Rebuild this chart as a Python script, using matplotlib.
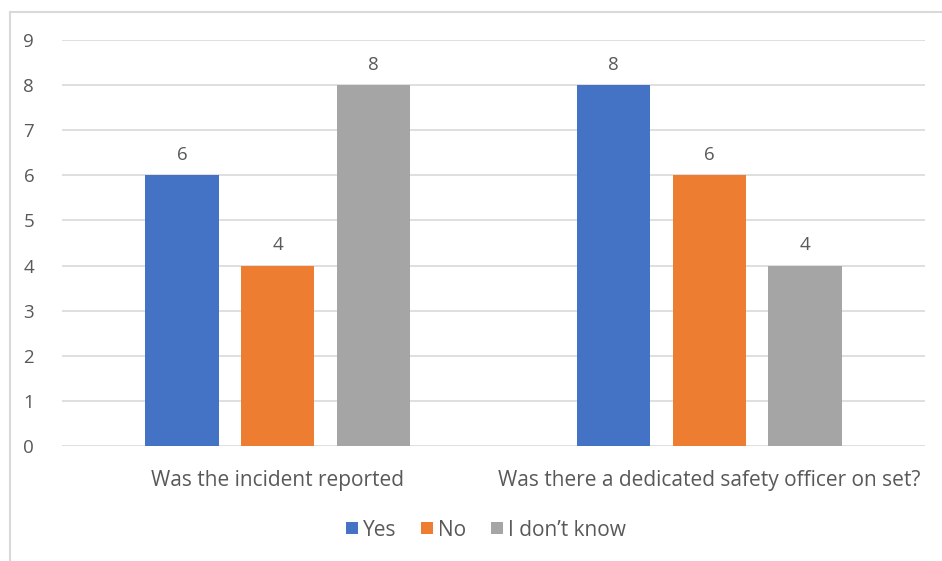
import matplotlib
matplotlib.use("Agg")
import matplotlib.pyplot as plt
from matplotlib.lines import Line2D
import numpy as np

plt.rcParams['font.family'] = ['Open Sans', 'DejaVu Sans']

categories = ["Was the incident reported", "Was there a dedicated safety officer on set?"]
series_names = ["Yes", "No", "I don\u2019t know"]
yes_vals = [6, 8]
no_vals = [4, 6]
idk_vals = [8, 4]
colors = ["#4472C4", "#ED7D31", "#A5A5A5"]
yticks = list(range(0, 10))

fig = plt.figure(figsize=(9.42, 5.61), dpi=100)
ax = fig.add_axes([62/942, (561-446)/561, (925-62)/942, (446-40)/561])

x = np.arange(len(categories))
width = 0.17
step = 0.222
text_color = "#595959"
fs = 13.5
fs_big = 15
for i, (vals, name, c) in enumerate(zip([yes_vals, no_vals, idk_vals], series_names, colors)):
    bars = ax.bar(x + (i - 1) * step, vals, width, color=c, label=name, zorder=3)
    for b, v in zip(bars, vals):
        ax.text(b.get_x() + b.get_width() / 2, v + 0.25, str(v), ha="center", va="bottom",
                fontsize=fs, color=text_color)

ax.set_xlim(-0.5, 1.5)
ax.set_ylim(0, 9)
ax.set_yticks(yticks)
ax.set_yticklabels([str(t) for t in yticks], fontsize=fs, color=text_color)
ax.set_xticks(x)
ax.set_xticklabels(categories, fontsize=fs_big, color=text_color)
ax.tick_params(axis="both", length=0)
ax.tick_params(axis="y", pad=20)
ax.tick_params(axis="x", pad=17)
ax.grid(axis="y", color="#D9D9D9", linewidth=1.2, zorder=0)
for s in ax.spines.values():
    s.set_visible(False)

leg = fig.legend(loc="center", bbox_to_anchor=(486/942, (561-530)/561), ncol=3, frameon=False,
                 fontsize=fs_big, handlelength=0.55, handleheight=0.55, handletextpad=0.25,
                 columnspacing=1.2)
for t in leg.get_texts():
    t.set_color(text_color)

# chart border (left and top)
fig.add_artist(Line2D([10/942, 10/942], [0, (561-12)/561], transform=fig.transFigure,
                      color="#D9D9D9", linewidth=1.5))
fig.add_artist(Line2D([10/942, 1], [(561-12)/561, (561-12)/561], transform=fig.transFigure,
                      color="#D9D9D9", linewidth=1.5))

fig.savefig("out.png", dpi=100)
